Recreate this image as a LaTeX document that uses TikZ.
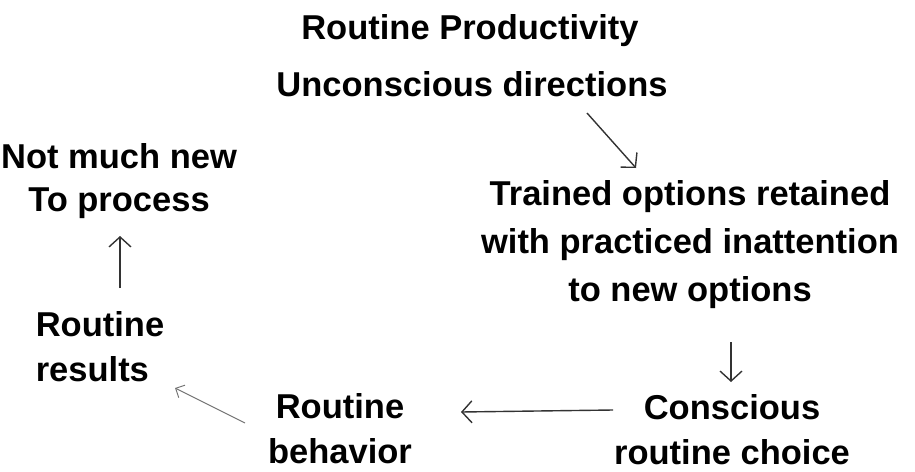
\documentclass[tikz,border=0pt]{standalone}
\usepackage{fontspec}
\setmainfont{Liberation Sans}
\usetikzlibrary{arrows.meta}
\begin{document}
\begin{tikzpicture}[x=1pt,y=-1pt,
  lbl/.style={font=\bfseries\fontsize{34.5}{45}\selectfont, align=center, inner sep=0pt, text=black},
  arr/.style={draw=black!80, line width=1.4pt, -{Straight Barb[length=10pt,width=22pt,line width=1.4pt]}},
  thinarr/.style={draw=black!55, line width=1pt, -{Straight Barb[length=7pt,width=14pt,line width=1pt]}}]
\useasboundingbox (0,0) rectangle (915,471);
\node[lbl] (prod) at (470,31) {Routine Productivity};
\node[lbl] (unc) at (472,84) {Unconscious directions};
\node[lbl, font=\bfseries\fontsize{34.5}{48}\selectfont] (trained) at (690,245) {Trained options retained\\with practiced inattention\\to new options};
\node[lbl] (cons) at (732,430) {Conscious\\routine choice};
\node[lbl] (beh) at (340,429) {Routine\\behavior};
\node[lbl, align=left] (res) at (100,347) {Routine\\results};
\node[lbl, font=\bfseries\fontsize{34.5}{43}\selectfont] (new) at (119,181) {Not much new\\To process};
\draw[arr] ([shift={(115,29)}]unc.center) -- ([shift={(-54,-77)}]trained.center);
\draw[arr] ([shift={(41,97)}]trained.center) -- ([shift={(-1,-48)}]cons.center);
\draw[arr] ([shift={(-119,-20)}]cons.center) -- ([shift={(121,-17)}]beh.center);
\draw[thinarr] ([shift={(-95,-6)}]beh.center) -- ([shift={(75,41)}]res.center);
\draw[arr] ([shift={(20,-59)}]res.center) -- ([shift={(1,55)}]new.center);
\end{tikzpicture}
\end{document}
